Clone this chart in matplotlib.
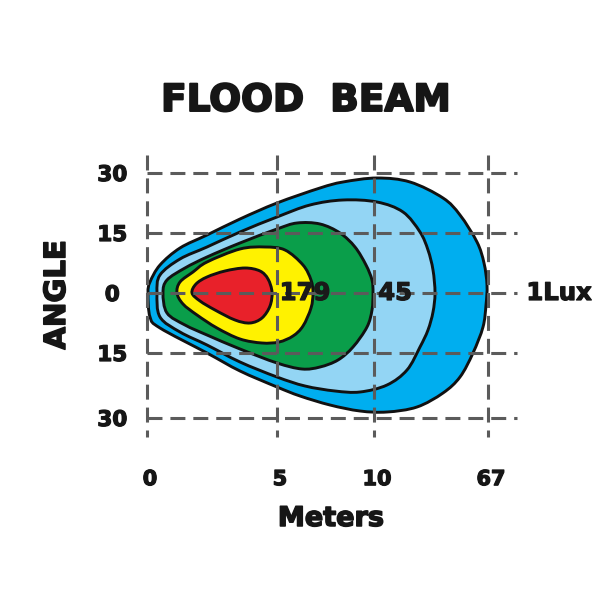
import numpy as np
import matplotlib
matplotlib.use("Agg")
import matplotlib.pyplot as plt
from matplotlib.path import Path
from matplotlib.patches import PathPatch
import matplotlib.patheffects as pe

# ---- data -------------------------------------------------------------
x_tick_labels = ["0", "5", "10", "67"]          # meters
x_tick_pos = [0, 130, 227, 341]                  # position on the drawing axis
y_tick_labels = ["30", "15", "0", "15", "30"]   # degrees
y_tick_pos = [30, 15, 0, -15, -31.25]

zone_names = ["1Lux", "light", "45", "179", "hot"]
zone_colors = ["#00aeef", "#93d5f4", "#0a9e4a", "#fff200", "#e8212a"]

# isolux outlines (x on drawing axis, y in degrees)
outer_x = [1, 3, 13, 33, 60, 93, 130, 173, 196, 230, 263, 296, 313, 330, 337, 340,
           339, 336, 326, 313, 296, 270, 240, 213, 183, 153, 130, 93, 60, 13, 3]
outer_y = [0, 2.75, 7, 11.25, 14.5, 18.5, 22.5, 26.25, 27.75, 28.75, 27.75, 23.75, 19.5,
           12.75, 7.5, 2, -3, -8.5, -15, -21, -25, -28.5, -29.75, -29.5, -28, -25.75,
           -23.5, -19.5, -15, -8.75, -6]

light_x = [10, 13, 33, 60, 93, 130, 163, 196, 230, 256, 273, 281, 286, 288, 286, 281,
           273, 260, 240, 213, 188, 158, 130, 93, 60, 33, 13]
light_y = [0, 4.5, 8.5, 11.5, 15.25, 19, 22, 23.25, 22.75, 20.25, 15.25, 10.75, 5.75, 0,
           -4.75, -9.25, -13.5, -19.25, -23, -24.75, -24.5, -23.25, -21, -17.25, -13,
           -9.75, -6]

green_x = [16, 20, 38, 60, 93, 130, 150, 173, 193, 208, 219, 225, 226, 225, 220, 206,
           191, 173, 155, 130, 93, 60, 38, 20]
green_y = [0, 3.25, 6.25, 9, 12.5, 16, 17.5, 17.25, 15, 11.5, 7, 3.25, 0, -4.25,
           -8.5, -13.5, -16.75, -18.5, -19, -17.5, -14, -10.5, -8, -5]

yellow_x = [30, 33, 46, 60, 93, 118, 138, 156, 164, 166, 164, 156, 146, 132, 115, 93,
            70, 50, 36]
yellow_y = [0, 2.75, 5.25, 7.75, 11, 11.5, 10.75, 7, 3.25, 0, -3.75, -8.25, -10.75,
            -12.25, -12.5, -11.5, -8.75, -5.5, -2.75]

red_x = [45, 49, 60, 78, 98, 113, 121, 125, 123, 115, 103, 88, 68, 53]
red_y = [0, 2.25, 4, 5.5, 6.25, 5.5, 3.5, 0.25, -3.25, -6.25, -7.5, -6.75, -4.25, -2]

zone_labels = ["179", "45"]
zone_label_x = [158, 248]
line_label = "1Lux"


def closed_smooth_path(xs, ys):
    p = np.column_stack([xs, ys]).astype(float)
    n = len(p)
    verts = [p[0]]
    codes = [Path.MOVETO]
    for i in range(n):
        p0, p1, p2, p3 = p[i - 1], p[i], p[(i + 1) % n], p[(i + 2) % n]
        c1 = p1 + (p2 - p0) / 6.0
        c2 = p2 - (p3 - p1) / 6.0
        verts += [c1, c2, p2]
        codes += [Path.CURVE4] * 3
    verts.append(p[0])
    codes.append(Path.CLOSEPOLY)
    return Path(verts, codes)


def heavy(color, w=0.9):
    return [pe.withStroke(linewidth=w, foreground=color)]


fig = plt.figure(figsize=(6, 6), dpi=100)
ax = fig.add_axes([140 / 600, 160 / 600, 380 / 600, 290 / 600])
ax.set_xlim(-7, 373)
ax.set_ylim(-36.75, 35.75)
for s in ax.spines.values():
    s.set_visible(False)

outlines = [(outer_x, outer_y), (light_x, light_y), (green_x, green_y),
            (yellow_x, yellow_y), (red_x, red_y)]
for (xs, ys), col in zip(outlines, zone_colors):
    ax.add_patch(PathPatch(closed_smooth_path(xs, ys), facecolor=col,
                           edgecolor="#111111", lw=2.1, zorder=2, clip_on=False))

grid_kw = dict(color="#5b5b5b", lw=2.2, zorder=3, clip_on=False)
for yv in y_tick_pos:
    ax.plot([0, 370], [yv, yv], dashes=(4.9, 2.6), **grid_kw)
for xv in x_tick_pos:
    ax.plot([xv, xv], [34.5, -36], dashes=(4.9, 2.6), **grid_kw)

font = "DejaVu Sans"
ink = "#161616"
ax.set_xticks([v + 3 for v in x_tick_pos])
ax.set_xticklabels(x_tick_labels, fontsize=15, fontweight="bold", family=font, color=ink)
ax.set_yticks(y_tick_pos)
ax.set_yticklabels(y_tick_labels, fontsize=15.5, fontweight="bold", family=font, color=ink)
ax.tick_params(axis="both", length=0)
ax.tick_params(axis="x", pad=21)
ax.tick_params(axis="y", pad=20)
for lab in ax.get_yticklabels() + ax.get_xticklabels():
    lab.set_ha("center")
    lab.set_path_effects(heavy(ink))

for t, xv in zip(zone_labels, zone_label_x):
    ax.text(xv, 0, t, ha="center", va="center", fontsize=17.5, fontweight="bold",
            family=font, color="#1a1a1a", zorder=4, path_effects=heavy("#1a1a1a"))
ax.text(412, 0, line_label, ha="center", va="center", fontsize=17.5, fontweight="bold",
        family=font, color=ink, clip_on=False, path_effects=heavy(ink))

fig.text(306 / 600, 1 - 101 / 600, "FLOOD  BEAM", ha="center", va="center",
         fontsize=27, fontweight="bold", family=font, color=ink,
         path_effects=heavy(ink, 1.4))
fig.text(331 / 600, 1 - 519 / 600, "Meters", ha="center", va="center",
         fontsize=19.5, fontweight="bold", family=font, color=ink,
         path_effects=heavy(ink, 1.1))
fig.text(57 / 600, 1 - 295 / 600, "ANGLE", ha="center", va="center", rotation=90,
         fontsize=21, fontweight="bold", family=font, color=ink,
         path_effects=heavy(ink, 1.1))

fig.savefig("out.png", dpi=100, facecolor="white")
